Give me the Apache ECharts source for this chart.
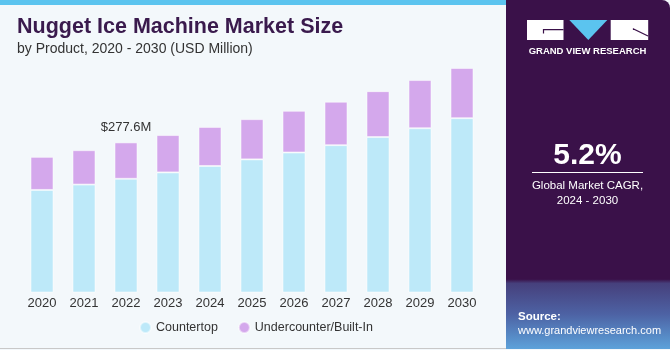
<!DOCTYPE html>
<html><head><meta charset="utf-8">
<script src="https://cdn.jsdelivr.net/npm/echarts@6/dist/echarts.min.js"></script>
<style>html,body{margin:0;padding:0;background:#f3f8fb}#c{width:670px;height:350px}</style>
</head><body><div id="c"></div>
<script>
const years = ['2020','2021','2022','2023','2024','2025','2026','2027','2028','2029','2030'];
const countertop = [189.7,199.6,210.3,222.1,234.0,246.2,258.9,272.5,287.5,303.8,322.4];
const undercounter = [61.2,63.6,67.3,69.1,72.2,74.4,77.2,80.4,84.9,89.1,92.9];
const annotatedIndex = 2;
const annotationText = '$277.6M';

const chart = echarts.init(document.getElementById('c'), null, {renderer:'canvas'});
const font = 'Liberation Sans, Arial, sans-serif';
const dark = '#3a1149';
chart.setOption({
  backgroundColor: '#f3f8fb',
  animation: false,
  grid: {left: 21, right: 187, top: 60, bottom: 57.5},
  xAxis: {
    type: 'category', data: years,
    axisLine: {show: false}, axisTick: {show: false},
    axisLabel: {color: '#333', fontSize: 13, fontFamily: font, margin: 4}
  },
  yAxis: {type: 'value', min: 0, max: 430, show: false, splitLine: {show: false}},
  legend: {
    bottom: 11, left: 134, itemGap: 20, icon: 'circle', itemWidth: 11, itemHeight: 11,
    textStyle: {color: '#333', fontSize: 12.5, fontFamily: font},
    data: ['Countertop', 'Undercounter/Built-In']
  },
  series: [
    {name: 'Countertop', type: 'bar', stack: 's', barWidth: 23, data: countertop,
     itemStyle: {color: '#bde9f9', borderColor: 'rgba(255,255,255,0.5)', borderWidth: 1}},
    {name: 'Undercounter/Built-In', type: 'bar', stack: 's', barWidth: 23,
     data: undercounter.map((v, i) => i === annotatedIndex ? {value: v, label: {show: true}} : v),
     itemStyle: {color: '#d4a8ec', borderColor: 'rgba(255,255,255,0.5)', borderWidth: 1},
     label: {show: false, position: 'top', distance: 8, formatter: () => annotationText,
             color: '#333', fontSize: 13, fontFamily: font}}
  ],
  graphic: [
    {type: 'rect', shape: {x: 0, y: 0, width: 510, height: 5}, style: {fill: '#5bc4ef'}, z: 10},
    {type: 'line', shape: {x1: 0, y1: 348.5, x2: 670, y2: 348.5}, style: {stroke: '#c8c8c8', lineWidth: 1}, z: 10},
    {type: 'text', left: 17, top: 16, style: {text: 'Nugget Ice Machine Market Size', fill: '#3a1a4d', font: 'bold 21.5px ' + font}, z: 10},
    {type: 'text', left: 17, top: 42, style: {text: 'by Product, 2020 - 2030 (USD Million)', fill: '#333', font: '14px ' + font}, z: 10},
    {type: 'rect', shape: {x: 506, y: 0, width: 164, height: 349, r: [0, 8, 0, 0]},
     style: {fill: new echarts.graphic.LinearGradient(0, 0, 0, 1, [
       {offset: 0, color: dark}, {offset: 0.8, color: dark}, {offset: 0.812, color: '#46407c'},
       {offset: 0.9, color: '#4d62a4'}, {offset: 1, color: '#5ca2da'}])}, z: 10},
    {type: 'rect', shape: {x: 527, y: 20, width: 36.5, height: 20}, style: {fill: '#fff'}, z: 11},
    {type: 'polyline', shape: {points: [[563.5, 29.7], [543.5, 29.7], [543.5, 33.5]]}, style: {stroke: dark, lineWidth: 1.2, fill: null}, z: 12},
    {type: 'polygon', shape: {points: [[569.3, 20], [607.3, 20], [588.3, 40]]}, style: {fill: '#5bc4ef'}, z: 11},
    {type: 'rect', shape: {x: 610.7, y: 20, width: 37.5, height: 20}, style: {fill: '#fff'}, z: 11},
    {type: 'polyline', shape: {points: [[633.5, 30], [633.5, 29], [648, 36]]}, style: {stroke: dark, lineWidth: 1.2, fill: null}, z: 12},
    {type: 'text', x: 587.5, y: 51, style: {text: 'GRAND VIEW RESEARCH', fill: '#fff', font: 'bold 9.5px ' + font, align: 'center', verticalAlign: 'middle'}, z: 11},
    {type: 'text', x: 587.5, y: 156, style: {text: '5.2%', fill: '#fff', font: 'bold 30px ' + font, align: 'center', verticalAlign: 'middle'}, z: 11},
    {type: 'line', shape: {x1: 532, y1: 172.5, x2: 643, y2: 172.5}, style: {stroke: '#ffffff', lineWidth: 1}, z: 11},
    {type: 'text', x: 587.5, y: 186, style: {text: 'Global Market CAGR,', fill: '#fff', font: '11.5px ' + font, align: 'center', verticalAlign: 'middle'}, z: 11},
    {type: 'text', x: 587.5, y: 201, style: {text: '2024 - 2030', fill: '#fff', font: '11.5px ' + font, align: 'center', verticalAlign: 'middle'}, z: 11},
    {type: 'text', x: 518, y: 317, style: {text: 'Source:', fill: '#fff', font: 'bold 11.5px ' + font, verticalAlign: 'middle'}, z: 11},
    {type: 'text', x: 518, y: 331, style: {text: 'www.grandviewresearch.com', fill: '#fff', font: '11px ' + font, verticalAlign: 'middle'}, z: 11}
  ]
});
</script></body></html>
